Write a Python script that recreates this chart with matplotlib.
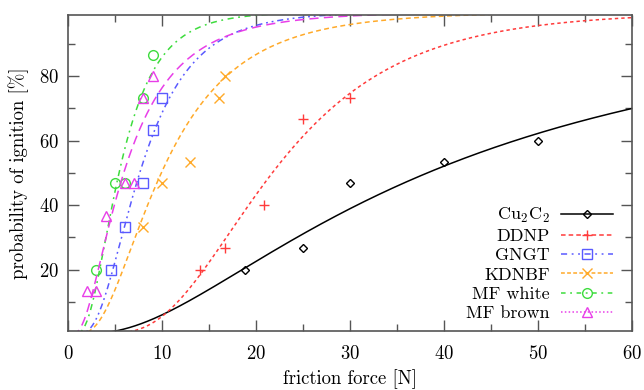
import numpy as np
import matplotlib
matplotlib.use('Agg')
import matplotlib.pyplot as plt
from matplotlib.lines import Line2D
from math import erf

plt.rcParams['font.family'] = ['cmr10', 'DejaVu Serif']
plt.rcParams['mathtext.fontset'] = 'cm'
plt.rcParams['axes.formatter.use_mathtext'] = True
plt.rcParams['font.size'] = 13.5

# measured points (friction force [N], probability of ignition [%])
labels = ['Cu$_2$C$_2$', 'DDNP', 'GNGT', 'KDNBF', 'MF white', 'MF brown']
cu_x = [18.8, 25, 30, 40, 50]
cu_y = [20, 26.7, 46.7, 53.3, 60]
ddnp_x = [14, 16.7, 20.8, 25, 30]
ddnp_y = [20, 26.7, 40, 66.7, 73.3]
gngt_x = [4.5, 6, 8, 9, 10]
gngt_y = [20, 33.3, 46.7, 63.3, 73.3]
kdnbf_x = [8, 10, 13, 16, 16.7]
kdnbf_y = [33.3, 46.7, 53.3, 73.3, 80]
mfw_x = [3, 5, 6, 8, 9]
mfw_y = [20, 46.7, 46.7, 73.3, 86.7]
mfb_x = [2, 3, 4, 6, 7, 8, 9]
mfb_y = [13.3, 13.3, 36.7, 46.7, 46.7, 73.3, 80]

# log-normal fit: median force [N] and width of ln(force)
fit_median = [38.2, 21.7, 7.6, 9.9, 5.4, 5.9]
fit_width = [0.86, 0.485, 0.56, 0.63, 0.57, 0.73]

xs = [cu_x, ddnp_x, gngt_x, kdnbf_x, mfw_x, mfb_x]
ys = [cu_y, ddnp_y, gngt_y, kdnbf_y, mfw_y, mfb_y]

colors = ['black', '#ff3b3b', '#5a5aff', '#ffaa2a', '#3ddc3d', '#e83ee8']
markers = ['D', '+', 's', 'x', 'o', '^']
msizes = [4.5, 7, 7, 7.5, 7, 7]
fit_styles = ['-', (0, (2.2, 2)), (0, (4, 2.5, 1.2, 2.5, 1.2, 2.5)),
              (0, (3.2, 2.2)), (0, (4, 3, 1.2, 3)), (0, (6, 3.5))]
key_styles = ['-', (0, (3, 2)), (0, (4, 3, 1.2, 3, 1.2, 3)),
              (0, (2.5, 1.5)), (0, (3, 3, 1.2, 3)), (0, (1, 1.5))]

fig = plt.figure(figsize=(6.44, 3.90), dpi=100)
ax = fig.add_axes([0.106, 0.152, 0.876, 0.8095])

f = np.linspace(0.3, 60, 600)
ncdf = np.frompyfunc(lambda z: 0.5 * (1 + erf(z / np.sqrt(2))), 1, 1)
handles = []
for i in range(len(labels)):
    p = 100 * ncdf((np.log(f) - np.log(fit_median[i])) / fit_width[i]).astype(float)
    ax.plot(f, p, color=colors[i], ls=fit_styles[i], lw=1.1)
    ax.plot(xs[i], ys[i], ls='none', marker=markers[i], ms=msizes[i],
            mfc='none', mec=colors[i], mew=1.0)
    handles.append(Line2D([], [], color=colors[i], ls=key_styles[i], lw=1.1,
                          marker=markers[i], ms=msizes[i], mfc='none',
                          mec=colors[i], mew=1.0))

ax.set_xlim(0, 60)
ax.set_ylim(1, 99)
ax.set_xticks(np.arange(0, 61, 10))
ax.set_xticks(np.arange(5, 60, 10), minor=True)
ax.set_yticks([20, 40, 60, 80])
ax.set_yticks([10, 30, 50, 70, 90], minor=True)
ax.tick_params(which='both', direction='in', top=True, right=True,
               color='#555555', width=1.0)
ax.tick_params(which='major', length=8)
ax.tick_params(which='minor', length=5)
ax.tick_params(axis='x', which='major', pad=10)
ax.tick_params(axis='y', which='major', pad=7)
for s in ax.spines.values():
    s.set_color('#555555')
    s.set_linewidth(1.2)

ax.set_xlabel('friction force [N]', labelpad=5)
ax.set_ylabel('probability of ignition [%]', labelpad=7)

leg = ax.legend(handles, labels, loc='lower right', markerfirst=False,
                frameon=False, handlelength=2.9, handletextpad=0.6,
                labelspacing=0.2, borderaxespad=0, borderpad=0,
                bbox_to_anchor=(0.966, 0.03), fontsize=13)

fig.savefig('out.png', dpi=100)
